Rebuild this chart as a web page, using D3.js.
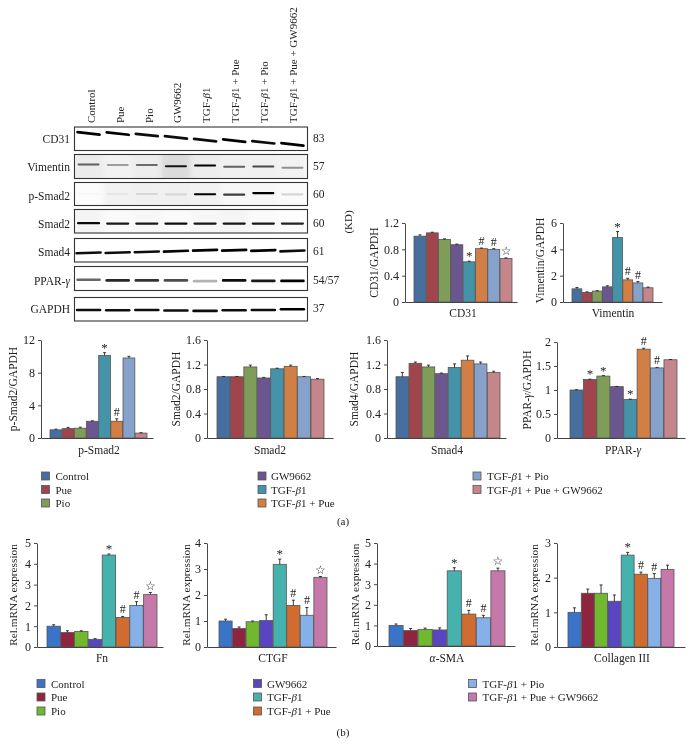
<!DOCTYPE html>
<html><head><meta charset="utf-8">
<script src="https://cdn.jsdelivr.net/npm/d3@7"></script>
<style>
html,body{margin:0;padding:0;background:#fff}
svg{display:block;opacity:.999}
text{font-family:"Liberation Serif",serif;fill:#222}
</style></head><body>
<svg id="c" width="693" height="754"></svg>
<script>
// ---------- data ----------
const groups = ["Control","Pue","Pio","GW9662","TGF-β1","TGF-β1 + Pue","TGF-β1 + Pio","TGF-β1 + Pue + GW9662"];

const cd31Values = [1,1.05,.95,.87,.61,.81,.80,.66];
const cd31Errors = [.02,.01,.01,.01,.01,.01,.01,.01];
const cd31Marks = ["","","","","*","#","#","☆"];
const vimentinValues = [1,.72,.83,1.15,4.9,1.68,1.45,1.08];
const vimentinErrors = [.1,.05,.03,.08,.45,.12,.1,.05];
const vimentinMarks = ["","","","","*","#","#",""];
const pSmad2Values = [1,1.15,1.2,2.05,10.1,2.05,9.8,.6];
const pSmad2Errors = [.08,.15,.12,.05,.35,.3,.2,.05];
const pSmad2Marks = ["","","","","*","#","",""];
const smad2Values = [1,1,1.16,.98,1.13,1.17,1,.96];
const smad2Errors = [.005,.005,.03,.01,.01,.02,.005,.01];
const smad4Values = [1,1.22,1.16,1.05,1.15,1.27,1.21,1.07];
const smad4Errors = [.07,.02,.03,.01,.06,.07,.03,.02];
const pparValues = [1,1.22,1.29,1.07,.8,1.85,1.46,1.63];
const pparErrors = [.005,.005,.01,.005,.01,.02,.01,.005];
const pparMarks = ["","*","*","","*","#","#",""];
const fnValues = [1,.7,.75,.37,4.42,1.42,2,2.52];
const fnErrors = [.07,.08,.03,.03,.05,.05,.18,.1];
const fnMarks = ["","","","","*","#","#","☆"];
const ctgfValues = [1,.71,.97,1.02,3.18,1.6,1.22,2.68];
const ctgfErrors = [.07,.06,.03,.22,.2,.2,.3,.03];
const smaValues = [1,.75,.8,.78,3.65,1.55,1.37,3.65];
const smaErrors = [.07,.1,.07,.1,.15,.18,.12,.13];
const colValues = [1,1.55,1.55,1.32,2.65,2.1,1.98,2.24];
const colErrors = [.13,.12,.24,.18,.08,.06,.14,.12];
const colMarks = ["","","","","*","#","#",""];
const noMarks = ["","","","","","","",""];

const ticks12 = [0,.4,.8,1.2], ticks16 = [0,.4,.8,1.2,1.6], ticks6 = [0,2,4,6], ticks12b = [0,4,8,12];
const ticks2 = [0,.5,1,1.5,2], ticks5 = [0,1,2,3,4,5], ticks4 = [0,1,2,3,4], ticks3 = [0,1,2,3];

// blot band centres (fraction of blot height) and band strength per lane
const blotNames = ["CD31","Vimentin","p-Smad2","Smad2","Smad4","PPAR-γ","GAPDH"];
const blotSizes = ["83","57","60","60","61","54/57","37"];
const cd31Bands = [.27,.28,.34,.44,.56,.58,.65,.74],      cd31Strength = [1,1,.95,.95,.95,1,.95,1];
const vimBands  = [.42,.44,.44,.49,.46,.51,.5,.55],       vimStrength  = [.6,.35,.55,.9,1,.6,.7,.4];
const psmBands  = [.5,.5,.5,.52,.51,.53,.46,.52],         psmStrength  = [.02,.05,.1,.1,1,.75,1,.15];
const smad2Bands= [.58,.6,.6,.6,.6,.6,.6,.6],             smad2Strength= [.95,.9,.9,.95,.9,.9,.9,.85];
const smad4Bands= [.61,.6,.57,.54,.5,.5,.51,.53],         smad4Strength= [.95,.95,.95,.98,1,1,1,.95];
const pparBands = [.55,.58,.58,.58,.61,.58,.6,.6],        pparStrength = [.6,.85,.8,.7,.3,.95,.9,1];
const gapdhBands= [.53,.54,.53,.55,.57,.54,.53,.5],       gapdhStrength= [.95,.95,.95,.95,.95,.95,.95,1];
const vimTint = [.08,.05,.07,.14,.07,.06,.06,.05];
const psmTint = [.01,.05,.06,.06,.05,.03,.03,.02];
const smad2Tint = [.04,.02,.03,.02,.03,.04,.02,.01];

// ---------- layout ----------
const colorsA = ["#466f9f","#a0454c","#7f9d58","#6b5690","#4593a9","#d17f45","#86a1ca","#c5868b"];
const colorsB = ["#3a74c8","#8e2440","#70b92f","#5a45c0","#45b2ae","#d06c30","#85b0e8","#c479a8"];

const svg = d3.select("#c");

function rich(sel, str){
  sel.text(null);
  str.split(/([αβγ])/).filter(s=>s).forEach(s=>{
    sel.append("tspan").attr("font-style",/[αβγ]/.test(s)?"italic":null).text(s);
  });
  return sel;
}
function label(x,y,str,size,anchor,rot){
  const t = svg.append("text").attr("font-size",size).attr("text-anchor",anchor||"middle")
    .attr("dominant-baseline","central")
    .attr("transform",`translate(${x},${y})`+(rot?` rotate(${rot})`:""));
  return rich(t,str);
}

function panel(p){
  const y = d3.scaleLinear().domain(p.domain).range([p.y0,p.y1]);
  const x = d3.scaleBand().domain(groups).range(p.bars).paddingInner(0.03);
  const g = svg.append("g");
  // bars
  g.selectAll("rect.bar").data(groups).join("rect").attr("class","bar")
    .attr("x",d=>x(d)).attr("width",x.bandwidth())
    .attr("y",(d,i)=>y(p.values[i])).attr("height",(d,i)=>p.y0-y(p.values[i]))
    .attr("fill",(d,i)=>p.colors[i]).attr("stroke","#555").attr("stroke-width",.8);
  // error bars
  const eb = g.selectAll("g.err").data(groups).join("g").attr("class","err");
  eb.append("line").attr("x1",d=>x(d)+x.bandwidth()/2).attr("x2",d=>x(d)+x.bandwidth()/2)
    .attr("y1",(d,i)=>y(p.values[i])).attr("y2",(d,i)=>y(p.values[i]+p.errors[i]))
    .attr("stroke","#222").attr("stroke-width",.9);
  eb.append("line").attr("x1",d=>x(d)+x.bandwidth()/2-1.5).attr("x2",d=>x(d)+x.bandwidth()/2+1.5)
    .attr("y1",(d,i)=>y(p.values[i]+p.errors[i])).attr("y2",(d,i)=>y(p.values[i]+p.errors[i]))
    .attr("stroke","#222").attr("stroke-width",.9);
  // significance marks
  g.selectAll("text.mark").data(groups).join("text").attr("class","mark")
    .attr("x",d=>x(d)+x.bandwidth()/2)
    .attr("y",(d,i)=>y(p.values[i]+p.errors[i])-(p.marks[i]==="*"?1:3))
    .attr("text-anchor","middle")
    .attr("font-size",(d,i)=>p.marks[i]==="☆"?12:p.marks[i]==="*"?13:12)
    .style("font-family",(d,i)=>p.marks[i]==="☆"?"'DejaVu Sans'":null)
    .text((d,i)=>p.marks[i]);
  // axes
  const ya = d3.axisLeft(y).tickValues(p.ticks).tickSize(3).tickSizeOuter(0).tickPadding(3)
    .tickFormat(d=>String(d));
  const ag = g.append("g").attr("transform",`translate(${p.axis[0]},0)`).call(ya);
  ag.selectAll("text").attr("font-size",12);
  ag.selectAll("line,path").attr("stroke","#333").attr("stroke-width",.9);
  const xs = d3.scaleLinear().domain([0,1]).range(p.axis);
  const xa = d3.axisBottom(xs).tickValues([]).tickSize(0).tickSizeOuter(0);
  const bg = g.append("g").attr("transform",`translate(0,${p.y0})`).call(xa);
  bg.selectAll("path").attr("stroke","#444").attr("stroke-width",1.1);
  label(p.titleX,(p.y0+p.y1)/2+p.titleDy,p.title,p.titleSize||11.5,"middle",-90);
  label(p.labelX,p.labelY,p.label,11.5);
}

const panels = [
 {values:cd31Values,errors:cd31Errors,marks:cd31Marks,colors:colorsA,domain:[0,1.2],ticks:ticks12,y0:302,y1:223,axis:[405,517],bars:[414,512],title:"CD31/GAPDH",titleX:374,titleDy:0,label:"CD31",labelX:463,labelY:313},
 {values:vimentinValues,errors:vimentinErrors,marks:vimentinMarks,colors:colorsA,domain:[0,6],ticks:ticks6,y0:302,y1:223,axis:[563,662],bars:[572,653],title:"Vimentin/GAPDH",titleX:540,titleDy:-2,label:"Vimentin",labelX:613,labelY:313},
 {values:pSmad2Values,errors:pSmad2Errors,marks:pSmad2Marks,colors:colorsA,domain:[0,12],ticks:ticks12b,y0:438,y1:340,axis:[41,153],bars:[50,147],title:"p-Smad2/GAPDH",titleX:13,titleDy:0,label:"p-Smad2",labelX:99,labelY:450},
 {values:smad2Values,errors:smad2Errors,marks:noMarks,colors:colorsA,domain:[0,1.6],ticks:ticks16,y0:438,y1:340,axis:[207,333],bars:[217,324],title:"Smad2/GAPDH",titleX:176,titleDy:0,label:"Smad2",labelX:270,labelY:450},
 {values:smad4Values,errors:smad4Errors,marks:noMarks,colors:colorsA,domain:[0,1.6],ticks:ticks16,y0:438,y1:340,axis:[387,506],bars:[396,500],title:"Smad4/GAPDH",titleX:354,titleDy:0,label:"Smad4",labelX:447,labelY:450},
 {values:pparValues,errors:pparErrors,marks:pparMarks,colors:colorsA,domain:[0,2],ticks:ticks2,y0:438,y1:342,axis:[557,685],bars:[570,677],title:"PPAR-γ/GAPDH",titleX:527,titleDy:0,label:"PPAR-γ",labelX:623,labelY:450},
 {values:fnValues,errors:fnErrors,marks:fnMarks,colors:colorsB,domain:[0,5],ticks:ticks5,y0:647,y1:543,axis:[37,163],bars:[47,157],title:"Rel.mRNA expression",titleSize:11.3,titleX:13,titleDy:0,label:"Fn",labelX:102,labelY:658},
 {values:ctgfValues,errors:ctgfErrors,marks:fnMarks,colors:colorsB,domain:[0,4],ticks:ticks4,y0:647,y1:543,axis:[207,336],bars:[219,327],title:"Rel.mRNA expression",titleSize:11.3,titleX:186,titleDy:0,label:"CTGF",labelX:273,labelY:658},
 {values:smaValues,errors:smaErrors,marks:fnMarks,colors:colorsB,domain:[0,5],ticks:ticks5,y0:646,y1:543,axis:[377,515],bars:[389,505],title:"Rel.mRNA expression",titleSize:11.3,titleX:355,titleDy:0,label:"α-SMA",labelX:447,labelY:658},
 {values:colValues,errors:colErrors,marks:colMarks,colors:colorsB,domain:[0,3],ticks:ticks3,y0:647,y1:543,axis:[557,685],bars:[568,674],title:"Rel.mRNA expression",titleSize:11.3,titleX:534,titleDy:0,label:"Collagen III",labelX:622,labelY:658}
];
panels.forEach(panel);

// legends
function legend(colors,cols,ys){
  cols.forEach((c,ci)=>{
    c.items.forEach((gi,ri)=>{
      svg.append("rect").attr("x",c.x).attr("y",ys[ri]-4).attr("width",8).attr("height",8)
        .attr("fill",colors[gi]).attr("stroke","#555").attr("stroke-width",.8);
      label(c.x+c.dx,ys[ri],groups[gi],11,"start");
    });
  });
}
legend(colorsA,[{x:41.5,dx:14,items:[0,1,2]},{x:258,dx:13,items:[3,4,5]},{x:473,dx:14,items:[6,7]}],[476,489.5,503]);
legend(colorsB,[{x:37,dx:14,items:[0,1,2]},{x:253.5,dx:13.5,items:[3,4,5]},{x:468.5,dx:14,items:[6,7]}],[683.5,697,711]);
label(343,521,"(a)",11);
label(343,732,"(b)",11);

// ---------- western blots ----------
const defs = svg.append("defs");
defs.append("filter").attr("id","bl").attr("filterUnits","userSpaceOnUse")
  .attr("x",0).attr("y",0).attr("width",693).attr("height",754)
  .append("feGaussianBlur").attr("stdDeviation",.6);
defs.append("filter").attr("id","sm").attr("filterUnits","userSpaceOnUse")
  .attr("x",0).attr("y",0).attr("width",693).attr("height",754)
  .append("feGaussianBlur").attr("stdDeviation",2.5);

const lanes = d3.scaleBand().domain(groups).range([74,307]).paddingInner(0);
const laneC = d=>lanes(d)+lanes.bandwidth()/2;
const blots = [
 {top:127,h:23.5,bands:cd31Bands,strength:cd31Strength,thick:2.7,half:11,tilt:1.2,textY:139,sizeY:138},
 {top:154.5,h:24,bands:vimBands,strength:vimStrength,thick:2,half:10,tilt:0,tint:vimTint,textY:167,sizeY:166},
 {top:182.5,h:23,bands:psmBands,strength:psmStrength,thick:2.2,half:10,tilt:0,tint:psmTint,textY:196,sizeY:194},
 {top:209.5,h:23.5,bands:smad2Bands,strength:smad2Strength,thick:2.2,half:10.5,tilt:0,tint:smad2Tint,textY:224,sizeY:223},
 {top:238.5,h:23.5,bands:smad4Bands,strength:smad4Strength,thick:2.6,half:12,tilt:-.4,textY:252,sizeY:251},
 {top:266.5,h:24,bands:pparBands,strength:pparStrength,thick:2.6,half:11,tilt:0,textY:281,sizeY:280},
 {top:297.5,h:23.5,bands:gapdhBands,strength:gapdhStrength,thick:2.6,half:11.5,tilt:0,textY:309,sizeY:308}
];
blots.forEach((b,bi)=>{
  const y = d3.scaleLinear().domain([0,1]).range([b.top,b.top+b.h]);
  const g = svg.append("g");
  const clipId = "clip"+bi;
  defs.append("clipPath").attr("id",clipId).append("rect")
    .attr("x",lanes.range()[0]).attr("y",b.top).attr("width",lanes.range()[1]-lanes.range()[0]).attr("height",b.h);
  const inner = g.append("g").attr("clip-path",`url(#${clipId})`);
  if(b.tint){
    inner.selectAll("rect.t").data(groups).join("rect").attr("class","t")
      .attr("x",d=>lanes(d)).attr("width",lanes.bandwidth()).attr("y",b.top-4).attr("height",b.h+8)
      .attr("fill","#000").attr("fill-opacity",(d,i)=>b.tint[i]).attr("filter","url(#sm)");
  }
  inner.selectAll("line.band").data(groups).join("line").attr("class","band")
    .attr("x1",d=>laneC(d)-b.half).attr("x2",d=>laneC(d)+b.half)
    .attr("y1",(d,i)=>y(b.bands[i])-b.tilt).attr("y2",(d,i)=>y(b.bands[i])+b.tilt)
    .attr("stroke","#000").attr("stroke-width",b.thick).attr("stroke-linecap","round")
    .attr("stroke-opacity",(d,i)=>b.strength[i]).attr("filter","url(#bl)");
  g.append("rect").attr("x",lanes.range()[0]+.5).attr("y",b.top).attr("width",lanes.range()[1]-lanes.range()[0]).attr("height",b.h)
    .attr("fill","none").attr("stroke","#333").attr("stroke-width",1.1);
  label(70,b.textY,blotNames[bi],11.5,"end");
  label(313,b.sizeY,blotSizes[bi],11.5,"start");
});
// lane headers
const headX = d3.scaleBand().domain(groups).range([76.5,307]);
groups.forEach(g=>{
  label(headX(g)+headX.bandwidth()/2,123,g,11,"start",-90);
});
label(348,222,"(KD)",11,"middle",-90);
</script>
</body></html>
